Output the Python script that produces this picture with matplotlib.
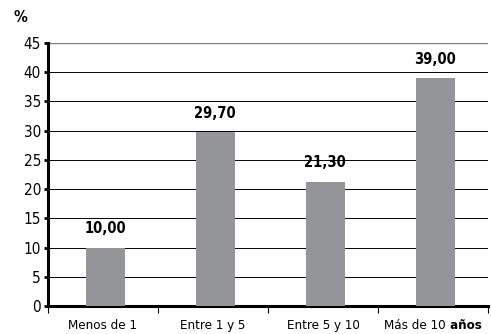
import numpy as np
import matplotlib.pyplot as plt

categorias = ['Menos de 1', 'Entre 1 y 5', 'Entre 5 y 10', 'Más de 10']
sufijo = 'años'
valores = [10.00, 29.70, 21.30, 39.00]
etiquetas = ['10,00', '29,70', '21,30', '39,00']

plt.rcParams['font.family'] = ['DejaVu Sans']
plt.rcParams['font.stretch'] = 'condensed'

fig = plt.figure(figsize=(4.91, 3.34), dpi=100)
ax = fig.add_axes([48 / 491, 28 / 334, 440 / 491, 263 / 334])

x = np.arange(len(valores))
ax.bar(x + 0.02, valores, width=0.355, color='#939598', zorder=3)

for xi, v, t in zip(x, valores, etiquetas):
    ax.annotate(t, (xi + 0.02, v), xytext=(0, 8), textcoords='offset points',
                ha='center', va='bottom', fontsize=10.5, fontweight='bold')

# rejilla horizontal
for y in range(5, 45, 5):
    ax.axhline(y, color='black', lw=0.7, zorder=1)
ax.axhline(45, color='#808080', lw=1.0, zorder=1)

ax.set_xlim(-0.5, 3.5)
ax.set_ylim(0, 45)
ax.set_yticks(range(0, 46, 5))
ax.set_yticklabels([str(v) for v in range(0, 46, 5)], fontsize=11)

ax.set_xticks(np.arange(-0.5, 4, 1))
ax.set_xticklabels([])
ax.tick_params(axis='x', which='major', length=5, width=0.8, direction='out')
ax.tick_params(axis='y', length=3, width=2, pad=2)

# etiquetas de categoria; la ultima lleva "años" en negrita
dy = -16.5
textos = []
for xi, c in zip(x, categorias):
    textos.append(ax.annotate(c, (xi, 0), xytext=(0, dy), textcoords='offset points',
                              ha='center', va='baseline', fontsize=9.5))
negrita = ax.annotate(' ' + sufijo, xy=(1, 0), xycoords=textos[-1], ha='left', va='bottom',
                      fontsize=9.5, fontweight='bold')
fig.canvas.draw()
r = fig.canvas.get_renderer()
w = negrita.get_window_extent(r).width / fig.dpi * 72
textos[-1].set_position((-w / 2, dy))

for s in ['top', 'right']:
    ax.spines[s].set_visible(False)
ax.spines['left'].set_linewidth(2.2)
ax.spines['bottom'].set_linewidth(2.2)

fig.text(14 / 491, 1 - 18 / 334, '%', fontsize=11, fontweight='bold', va='center')

fig.savefig('out.png', dpi=100)
